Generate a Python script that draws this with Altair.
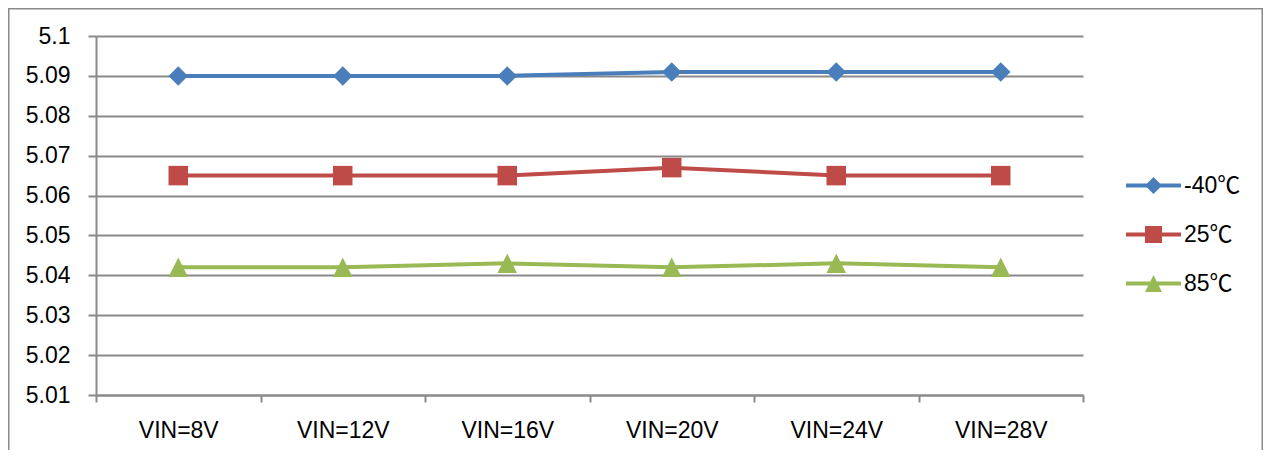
import altair as alt
import pandas as pd

categories = ["VIN=8V", "VIN=12V", "VIN=16V", "VIN=20V", "VIN=24V", "VIN=28V"]
series_names = ["-40℃", "25℃", "85℃"]
vals_m40 = [5.090, 5.090, 5.090, 5.091, 5.091, 5.091]
vals_25 = [5.065, 5.065, 5.065, 5.067, 5.065, 5.065]
vals_85 = [5.042, 5.042, 5.043, 5.042, 5.043, 5.042]
y_ticks = [5.01, 5.02, 5.03, 5.04, 5.05, 5.06, 5.07, 5.08, 5.09, 5.1]

colors = ["#4A7EBB", "#BE4B48", "#98B954"]
marker_paths = [
    "M0,-1L1,0L0,1L-1,0Z",
    "M-1,-1L1,-1L1,1L-1,1Z",
    "M0,-1L1,1L-1,1Z",
]
bar = "M-3.24,-0.24L3.24,-0.24L3.24,0.24L-3.24,0.24Z "
legend_paths = [bar + p for p in marker_paths]

rows = []
for name, vals in zip(series_names, [vals_m40, vals_25, vals_85]):
    for c, v in zip(categories, vals):
        rows.append({"vin": c, "value": v, "series": name})
df = pd.DataFrame(rows)

FONT = "Liberation Sans, Noto Sans CJK SC"
GRAY = "#8a8a8a"

W, H = 987, 359

x_enc = alt.X(
    "vin:N",
    sort=categories,
    scale=alt.Scale(type="band", paddingInner=0, paddingOuter=0),
    axis=alt.Axis(
        title=None, grid=False, tickBand="extent", tickSize=7, tickWidth=2,
        tickColor=GRAY, domainColor=GRAY, domainWidth=2, labelFontSize=23,
        labelPadding=17, labelColor="black", labelFont=FONT, labelAngle=0,
    ),
)
y_enc = alt.Y(
    "value:Q",
    scale=alt.Scale(domain=[5.01, 5.1], nice=False, zero=False),
    axis=alt.Axis(
        title=None, values=y_ticks, format=".2~f", grid=True, gridColor=GRAY,
        gridWidth=2, tickSize=8, tickWidth=2, tickColor=GRAY, domainColor=GRAY,
        domainWidth=2, labelFontSize=23, labelPadding=18, labelColor="black",
        labelFont=FONT,
    ),
)

color_plain = alt.Color("series:N", scale=alt.Scale(domain=series_names, range=colors), legend=None)

lines = alt.Chart(df).mark_line(strokeWidth=4).encode(
    x=x_enc, y=y_enc, color=color_plain, detail="series:N"
)

points = alt.Chart(df).mark_point(filled=True, size=380, opacity=1, strokeWidth=0).encode(
    x=x_enc, y=y_enc, color=color_plain,
    shape=alt.Shape("series:N", scale=alt.Scale(domain=series_names, range=marker_paths), legend=None),
)

leg = alt.Legend(
    orient="none", legendX=1046, legendY=138, title=None, symbolSize=289,
    symbolStrokeWidth=0, symbolOpacity=1, labelFontSize=23, labelOffset=19,
    rowPadding=25, padding=0, labelFont=FONT, labelColor="black",
)
ghost = alt.Chart(df).mark_point(filled=True, opacity=1).encode(
    color=alt.Color("series:N", scale=alt.Scale(domain=series_names, range=colors), legend=leg),
    shape=alt.Shape("series:N", scale=alt.Scale(domain=series_names, range=legend_paths), legend=leg),
).transform_filter("false")

frame = alt.Chart(alt.Data(values=[{}])).mark_rect(
    fill=None, stroke=GRAY, strokeWidth=1.5
).encode(
    x=alt.value(-87.25), x2=alt.value(W + 180 - 0.75),
    y=alt.value(-27.25), y2=alt.value(600),
)

chart = alt.layer(frame, lines, points, ghost).resolve_scale(
    color="independent", shape="independent"
).properties(
    width=W, height=H,
    autosize=alt.AutoSizeParams(type="none"),
    padding={"left": 88, "top": 28, "right": 180, "bottom": 55},
    background="white",
).configure_view(stroke=None)

chart.save("out.html", embed_options={"renderer": "svg", "actions": False})
